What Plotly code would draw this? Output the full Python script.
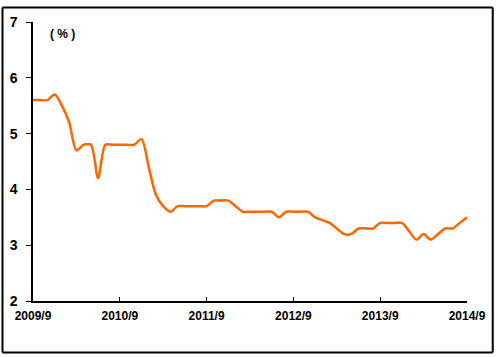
import plotly.graph_objects as go

# Monthly data, 2009/9 .. 2014/9
month_index = list(range(61))
values = [5.6, 5.6, 5.6, 5.7, 5.5, 5.2, 4.7, 4.8, 4.8, 4.2,
          4.8, 4.8, 4.8, 4.8, 4.8, 4.9, 4.4, 3.9, 3.7, 3.6,
          3.7, 3.7, 3.7, 3.7, 3.7, 3.8, 3.8, 3.8, 3.7, 3.6,
          3.6, 3.6, 3.6, 3.6, 3.5, 3.6, 3.6, 3.6, 3.6, 3.5,
          3.45, 3.4, 3.3, 3.2, 3.2, 3.3, 3.3, 3.3, 3.4, 3.4,
          3.4, 3.4, 3.25, 3.1, 3.2, 3.1, 3.2, 3.3, 3.3, 3.4,
          3.5]
x_tickvals = [0, 12, 24, 36, 48, 60]
x_ticktext = ["2009/9", "2010/9", "2011/9", "2012/9", "2013/9", "2014/9"]
y_tickvals = [2, 3, 4, 5, 6, 7]
unit_label = "( % )"

fig = go.Figure()
fig.add_trace(go.Scatter(
    x=month_index, y=values, mode="lines",
    line=dict(color="#FF6600", width=2.5, shape="spline", smoothing=0.8),
    hoverinfo="skip", showlegend=False,
))

bx0, bx1, by0, by1 = -0.0703, 1.0593, -0.1846, 1.052
border = dict(color="black", width=2)
shapes = [
    dict(type="line", xref="paper", yref="paper", x0=bx0, x1=bx1, y0=by1, y1=by1, line=border, layer="above"),
    dict(type="line", xref="paper", yref="paper", x0=bx0, x1=bx1, y0=by0, y1=by0, line=border),
    dict(type="line", xref="paper", yref="paper", x0=bx0, x1=bx0, y0=by0, y1=by1, line=border),
    dict(type="line", xref="paper", yref="paper", x0=bx1, x1=bx1, y0=by0, y1=by1, line=border),
]

fig.update_layout(
    width=498, height=357,
    margin=dict(l=33, r=31, t=22, b=56, autoexpand=False),
    paper_bgcolor="white", plot_bgcolor="white",
    font=dict(family="Liberation Sans, Arial, sans-serif", color="black"),
    xaxis=dict(
        range=[0, 60], tickvals=x_tickvals, ticktext=x_ticktext,
        showgrid=False, zeroline=False, showline=True, linecolor="black", linewidth=1.5,
        ticks="inside", ticklen=4, tickcolor="black", tickwidth=1,
        tickfont=dict(size=12, weight="bold"), ticklabelstandoff=3,
    ),
    yaxis=dict(
        range=[2, 7], tickvals=y_tickvals,
        showgrid=False, zeroline=False, showline=True, linecolor="black", linewidth=1.5,
        ticks="outside", ticklen=5, tickcolor="black", tickwidth=1,
        tickfont=dict(size=14, weight="bold"), ticklabelstandoff=6,
    ),
    annotations=[dict(
        x=0.069, y=0.957, xref="paper", yref="paper", xanchor="center", yanchor="middle",
        text=unit_label, showarrow=False,
        font=dict(size=12, weight="bold"),
    )],
    shapes=shapes,
)

fig.write_html("out.html", config={"displayModeBar": False},
               post_script="document.body.style.margin='0';")
